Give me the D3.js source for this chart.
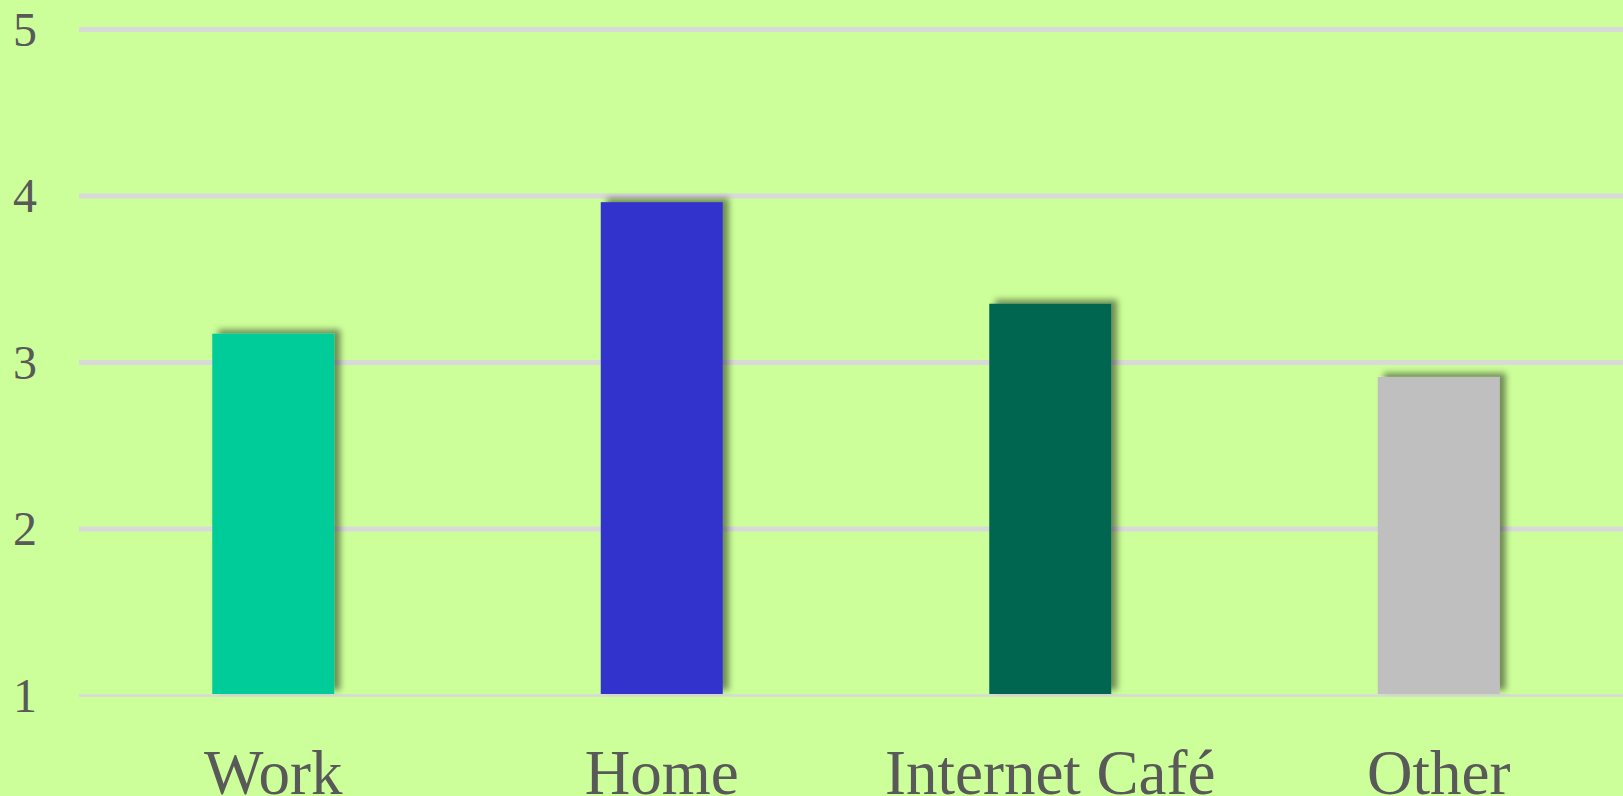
<!DOCTYPE html>
<html>
<head>
<meta charset="utf-8">
<script src="https://cdn.jsdelivr.net/npm/d3@7"></script>
<style>
  html, body { margin: 0; padding: 0; background: #ccff99; overflow: hidden; }
</style>
</head>
<body>
<script>
const categories = ['Work', 'Home', 'Internet Café', 'Other']
const values = [3.17, 3.96, 3.35, 2.91]
const barColors = ['#00cc99', '#3333cc', '#00664f', '#bfbfbf']
const yTicks = [1, 2, 3, 4, 5]

const width = 1623
const height = 796
const left = 79

const svg = d3.select('body').append('svg')
  .attr('width', width)
  .attr('height', height)
  .style('display', 'block')

svg.append('rect')
  .attr('width', width)
  .attr('height', height)
  .attr('fill', '#ccff99')

// drop shadow, slightly up and to the right
svg.append('defs').append('filter')
  .attr('id', 'shadow')
  .attr('x', '-20%').attr('y', '-20%')
  .attr('width', '140%').attr('height', '140%')
  .append('feDropShadow')
  .attr('dx', 6)
  .attr('dy', -4)
  .attr('stdDeviation', 3)
  .attr('flood-color', '#000')
  .attr('flood-opacity', 0.45)

const x = d3.scaleBand()
  .domain(categories)
  .range([left, 1633])
  .paddingInner(0.686)
  .paddingOuter(0.343)

const y = d3.scaleLinear()
  .domain([1, 5])
  .range([695, 29])

// gridlines + tick labels
const yAxis = svg.append('g')
  .attr('transform', 'translate(' + left + ',0)')
  .call(d3.axisLeft(y).tickValues(yTicks).tickSize(-(width - left)).tickPadding(0).tickFormat(d3.format('d')))

yAxis.select('.domain').remove()
yAxis.selectAll('.tick line')
  .attr('stroke', '#d9d9d9')
  .attr('stroke-width', function (d) { return d === 1 ? 2.5 : 5 })
yAxis.selectAll('.tick text')
  .attr('x', -54)
  .attr('dy', '0.34em')
  .attr('text-anchor', 'middle')
  .attr('fill', '#595959')
  .style('font-family', '"Liberation Serif", "Times New Roman", serif')
  .style('font-size', '48px')

// bars
svg.append('g')
  .selectAll('rect')
  .data(categories)
  .enter().append('rect')
  .attr('x', function (d) { return x(d) })
  .attr('y', function (d, i) { return y(values[i]) })
  .attr('width', x.bandwidth())
  .attr('height', function (d, i) { return y(1) - 1 - y(values[i]) })
  .attr('fill', function (d, i) { return barColors[i] })
  .attr('filter', 'url(#shadow)')

// category labels
svg.append('g')
  .selectAll('text')
  .data(categories)
  .enter().append('text')
  .attr('x', function (d) { return x(d) + x.bandwidth() / 2 })
  .attr('y', 794)
  .attr('text-anchor', 'middle')
  .attr('fill', '#595959')
  .style('font-family', '"Liberation Serif", "Times New Roman", serif')
  .style('font-size', '63px')
  .text(function (d) { return d })
</script>
</body>
</html>
